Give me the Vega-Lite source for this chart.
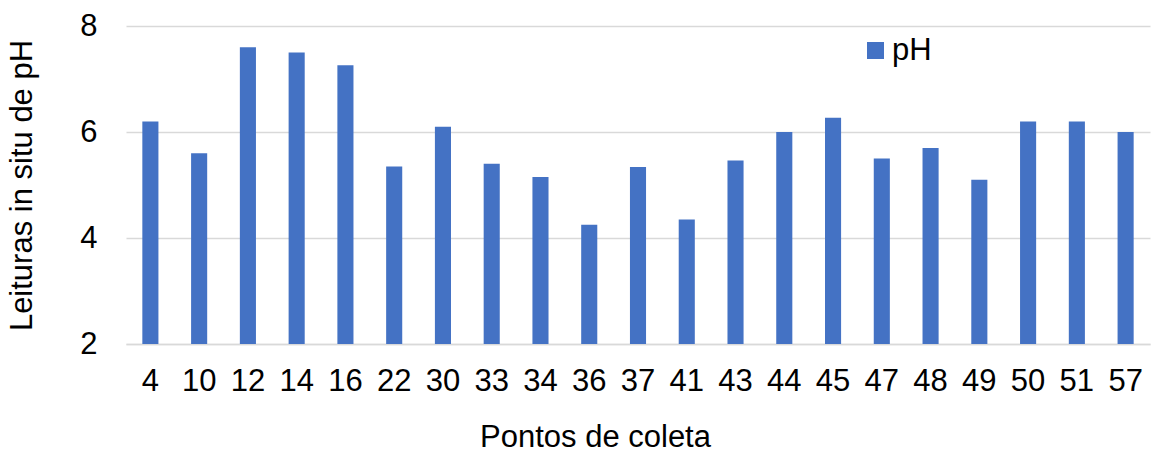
{
  "$schema": "https://vega.github.io/schema/vega-lite/v6.json",
  "width": 1024,
  "height": 318,
  "autosize": {"type": "none"},
  "padding": {"left": 126, "top": 26, "right": 4, "bottom": 109},
  "background": "white",
  "config": {
    "view": {"stroke": null},
    "font": "Liberation Sans",
    "axis": {"labelFont": "Liberation Sans", "titleFont": "Liberation Sans", "labelColor": "#000000", "titleColor": "#000000", "titleFontWeight": "normal"}
  },
  "data": {
    "values": [
      {"ponto": "4", "serie": "pH", "ph": 6.2},
      {"ponto": "10", "serie": "pH", "ph": 5.6},
      {"ponto": "12", "serie": "pH", "ph": 7.6},
      {"ponto": "14", "serie": "pH", "ph": 7.5},
      {"ponto": "16", "serie": "pH", "ph": 7.26},
      {"ponto": "22", "serie": "pH", "ph": 5.35},
      {"ponto": "30", "serie": "pH", "ph": 6.1},
      {"ponto": "33", "serie": "pH", "ph": 5.4},
      {"ponto": "34", "serie": "pH", "ph": 5.15},
      {"ponto": "36", "serie": "pH", "ph": 4.25},
      {"ponto": "37", "serie": "pH", "ph": 5.34},
      {"ponto": "41", "serie": "pH", "ph": 4.35},
      {"ponto": "43", "serie": "pH", "ph": 5.46},
      {"ponto": "44", "serie": "pH", "ph": 6.0},
      {"ponto": "45", "serie": "pH", "ph": 6.27},
      {"ponto": "47", "serie": "pH", "ph": 5.5},
      {"ponto": "48", "serie": "pH", "ph": 5.7},
      {"ponto": "49", "serie": "pH", "ph": 5.1},
      {"ponto": "50", "serie": "pH", "ph": 6.2},
      {"ponto": "51", "serie": "pH", "ph": 6.2},
      {"ponto": "57", "serie": "pH", "ph": 6.0}
    ]
  },
  "mark": {"type": "bar", "clip": true},
  "encoding": {
    "x": {
      "field": "ponto",
      "type": "ordinal",
      "sort": null,
      "scale": {"paddingInner": 0.67, "paddingOuter": 0.335},
      "axis": {
        "title": "Pontos de coleta",
        "titleFontSize": 31,
        "titlePadding": 26,
        "titleX": 469,
        "labelFontSize": 31,
        "labelAngle": 0,
        "labelPadding": 22,
        "ticks": false,
        "domain": true,
        "domainColor": "#D9D9D9",
        "domainWidth": 1.5
      }
    },
    "y": {
      "field": "ph",
      "type": "quantitative",
      "scale": {"domain": [2, 8], "zero": false, "nice": false},
      "axis": {
        "title": "Leituras in situ de pH",
        "titleFontSize": 31,
        "titlePadding": 41,
        "labelFontSize": 31,
        "labelPadding": 29,
        "values": [2, 4, 6, 8],
        "ticks": false,
        "domain": false,
        "grid": true,
        "gridColor": "#D9D9D9",
        "gridWidth": 1.5
      }
    },
    "color": {
      "field": "serie",
      "type": "nominal",
      "scale": {"range": ["#4472C4"]},
      "legend": {
        "title": null,
        "orient": "none",
        "legendX": 734,
        "legendY": 9,
        "symbolType": "square",
        "symbolSize": 289,
        "symbolStrokeWidth": 0,
        "labelFontSize": 31,
        "labelFont": "Liberation Sans",
        "labelColor": "#000000",
        "labelOffset": 1
      }
    }
  }
}
